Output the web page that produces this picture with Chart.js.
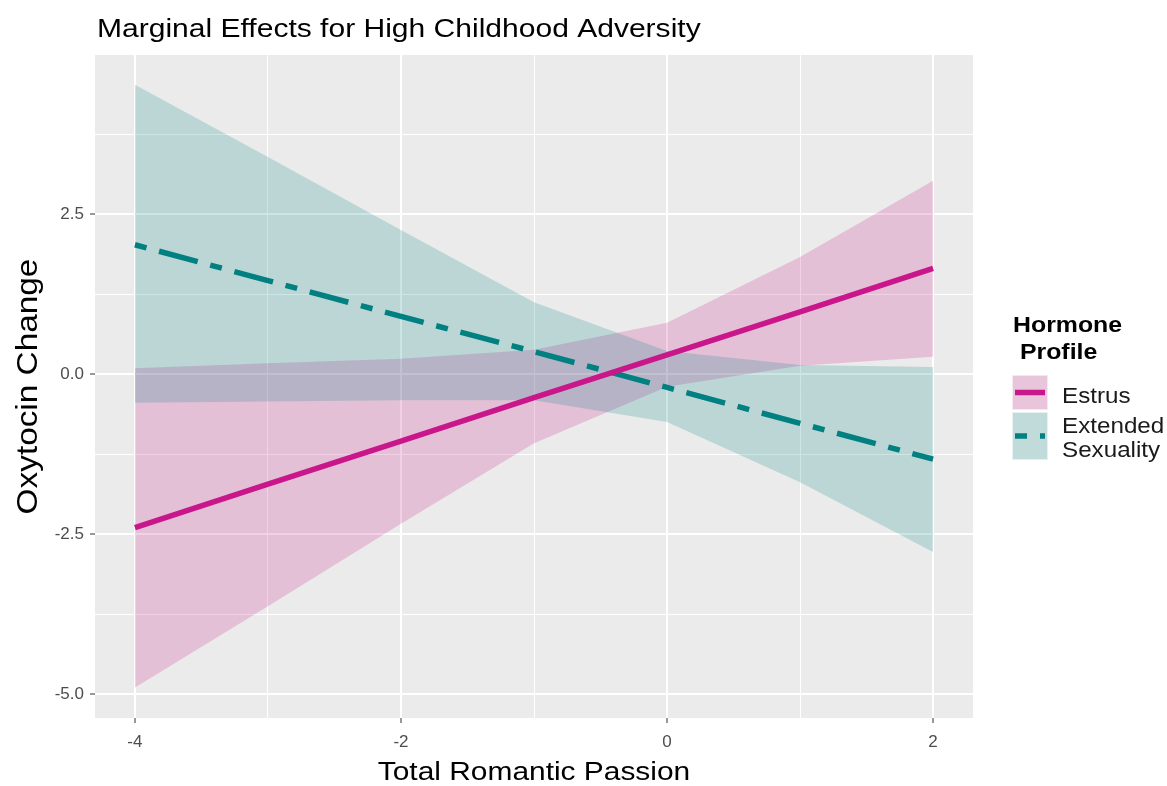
<!DOCTYPE html>
<html>
<head>
<meta charset="utf-8">
<script src="https://cdn.jsdelivr.net/npm/chart.js@4.4.1/dist/chart.umd.min.js"></script>
<style>
  html, body { margin: 0; padding: 0; background: #ffffff; }
  #wrap { width: 1167px; height: 786px; }
</style>
</head>
<body>
<div id="wrap"><canvas id="c" width="1167" height="786"></canvas></div>
<script>
// ---- Data ----
const xValues = [-4, -3, -2, -1, 0, 1, 2];
const estrusFit   = [-2.40, -1.72, -1.05, -0.37, 0.30, 0.97, 1.65];
const estrusLower = [-4.90, -3.63, -2.34, -1.08, -0.20, 0.13, 0.27];
const estrusUpper = [0.09, 0.17, 0.24, 0.38, 0.80, 1.83, 3.02];
const extendedFit   = [2.02, 1.46, 0.90, 0.35, -0.21, -0.77, -1.33];
const extendedLower = [-0.45, -0.43, -0.41, -0.41, -0.75, -1.69, -2.78];
const extendedUpper = [4.52, 3.39, 2.25, 1.12, 0.36, 0.14, 0.11];

const xTicks = [-4, -3, -2, -1, 0, 1, 2];
const xMajor = [-4, -2, 0, 2];
const yTicks = [-5, -3.75, -2.5, -1.25, 0, 1.25, 2.5, 3.75];
const yMajor = [-5, -2.5, 0, 2.5];

const seriesNames = ['Estrus', 'Extended\nSexuality'];
const titleText = 'Marginal Effects for High Childhood Adversity';
const xTitle = 'Total Romantic Passion';
const yTitle = 'Oxytocin Change';
const legendTitle = ['Hormone', ' Profile'];

// ---- Styles ----
const PINK = '#C9168A';
const TEAL = '#008080';
const PINK_BAND = 'rgba(199,21,133,0.2)';
const TEAL_BAND = 'rgba(0,128,128,0.2)';
const DASH = [12, 13, 40, 13];
const FONT = '"Liberation Sans", Arial, sans-serif';

const pts = (ys) => xValues.map((x, i) => ({ x: x, y: ys[i] }));
const isMajor = (arr, v) => arr.some(m => Math.abs(m - v) < 1e-9);

function stretchText(ctx, text, x, y, font, color, sx, align) {
  ctx.save();
  ctx.font = font;
  ctx.fillStyle = color;
  ctx.textBaseline = 'alphabetic';
  ctx.textAlign = 'left';
  const w = ctx.measureText(text).width;
  ctx.translate(x, y);
  ctx.scale(sx, 1);
  let dx = 0;
  if (align === 'center') dx = -w / 2;
  ctx.fillText(text, dx, 0);
  ctx.restore();
}

const bgPlugin = {
  id: 'panelBg',
  beforeDraw(chart) {
    const { ctx, chartArea: a } = chart;
    ctx.save();
    ctx.fillStyle = '#ffffff';
    ctx.fillRect(0, 0, chart.width, chart.height);
    ctx.fillStyle = '#EBEBEB';
    ctx.fillRect(a.left, a.top, a.right - a.left, a.bottom - a.top);
    ctx.restore();
  }
};

const decorPlugin = {
  id: 'decor',
  afterDraw(chart) {
    const { ctx, chartArea: a } = chart;
    stretchText(ctx, titleText, 97, 37, '26px ' + FONT, '#000000', 1.155, 'left');
    stretchText(ctx, xTitle, (a.left + a.right) / 2, 780, '26px ' + FONT, '#000000', 1.15, 'center');
    ctx.save();
    ctx.translate(37, (a.top + a.bottom) / 2);
    ctx.rotate(-Math.PI / 2);
    stretchText(ctx, yTitle, 0, 0, '29px ' + FONT, '#000000', 1.15, 'center');
    ctx.restore();

    stretchText(ctx, legendTitle[0], 1013, 332, 'bold 22px ' + FONT, '#000000', 1.13, 'left');
    stretchText(ctx, legendTitle[1], 1013, 359, 'bold 22px ' + FONT, '#000000', 1.13, 'left');

    const keys = [
      { y: 375, h: 35, band: PINK_BAND, line: PINK, dash: [] },
      { y: 412, h: 48, band: TEAL_BAND, line: TEAL, dash: DASH }
    ];
    keys.forEach(k => {
      ctx.save();
      ctx.fillStyle = '#F2F2F2';
      ctx.fillRect(1012, k.y, 36, k.h);
      ctx.fillStyle = k.band;
      ctx.fillRect(1012, k.y, 36, k.h);
      ctx.strokeStyle = 'rgba(255,255,255,0.6)';
      ctx.lineWidth = 1;
      ctx.strokeRect(1012.5, k.y + 0.5, 35, k.h - 1);
      ctx.strokeStyle = k.line;
      ctx.lineWidth = 5.5;
      ctx.lineCap = 'butt';
      ctx.setLineDash(k.dash);
      ctx.beginPath();
      const cy = k.y + k.h / 2;
      ctx.moveTo(1015, cy);
      ctx.lineTo(1045, cy);
      ctx.stroke();
      ctx.restore();
    });
    stretchText(ctx, 'Estrus', 1062, 403, '22px ' + FONT, '#1A1A1A', 1.1, 'left');
    const ext = seriesNames[1].split('\n');
    stretchText(ctx, ext[0], 1062, 433, '22px ' + FONT, '#1A1A1A', 1.1, 'left');
    stretchText(ctx, ext[1], 1062, 457, '22px ' + FONT, '#1A1A1A', 1.1, 'left');
  }
};

const lineBase = { pointRadius: 0, pointHoverRadius: 0, tension: 0 };

new Chart(document.getElementById('c'), {
  type: 'line',
  data: {
    datasets: [
      Object.assign({}, lineBase, { label: 'Estrus', data: pts(estrusFit), borderColor: PINK, borderWidth: 5.5, fill: false }),
      Object.assign({}, lineBase, { label: 'Extended Sexuality', data: pts(extendedFit), borderColor: TEAL, borderWidth: 5.5, borderDash: DASH, fill: false }),
      Object.assign({}, lineBase, { label: 'ext upper', data: pts(extendedUpper), borderWidth: 0, borderColor: 'rgba(0,0,0,0)', backgroundColor: TEAL_BAND, fill: '+1' }),
      Object.assign({}, lineBase, { label: 'ext lower', data: pts(extendedLower), borderWidth: 0, borderColor: 'rgba(0,0,0,0)', fill: false }),
      Object.assign({}, lineBase, { label: 'estrus upper', data: pts(estrusUpper), borderWidth: 0, borderColor: 'rgba(0,0,0,0)', backgroundColor: PINK_BAND, fill: '+1' }),
      Object.assign({}, lineBase, { label: 'estrus lower', data: pts(estrusLower), borderWidth: 0, borderColor: 'rgba(0,0,0,0)', fill: false })
    ]
  },
  options: {
    responsive: false,
    animation: false,
    devicePixelRatio: 1,
    layout: { padding: { left: 0, top: 55, right: 194, bottom: 0 } },
    plugins: {
      legend: { display: false },
      title: { display: false },
      tooltip: { enabled: false }
    },
    scales: {
      x: {
        type: 'linear',
        min: -4.3, max: 2.3,
        border: { display: false },
        afterBuildTicks: (s) => { s.ticks = xTicks.map(v => ({ value: v })); },
        afterFit: (s) => { s.height = 68; },
        grid: {
          color: '#ffffff',
          lineWidth: (c) => isMajor(xMajor, c.tick.value) ? 2 : 1,
          drawTicks: true,
          tickLength: 5,
          tickWidth: 1,
          tickColor: (c) => isMajor(xMajor, c.tick.value) ? '#333333' : 'rgba(0,0,0,0)'
        },
        ticks: {
          autoSkip: false,
          maxRotation: 0,
          padding: 9,
          color: '#4D4D4D',
          font: { family: FONT, size: 17 },
          callback: (v) => isMajor(xMajor, v) ? String(v) : ''
        }
      },
      y: {
        type: 'linear',
        min: -5.375, max: 4.985,
        border: { display: false },
        afterBuildTicks: (s) => { s.ticks = yTicks.map(v => ({ value: v })); },
        afterFit: (s) => { s.width = 95; },
        grid: {
          color: '#ffffff',
          lineWidth: (c) => isMajor(yMajor, c.tick.value) ? 2 : 1,
          drawTicks: true,
          tickLength: 5,
          tickWidth: 1,
          tickColor: (c) => isMajor(yMajor, c.tick.value) ? '#333333' : 'rgba(0,0,0,0)'
        },
        ticks: {
          autoSkip: false,
          padding: 6,
          color: '#4D4D4D',
          font: { family: FONT, size: 17 },
          callback: (v) => isMajor(yMajor, v) ? Number(v).toFixed(1) : ''
        }
      }
    }
  },
  plugins: [bgPlugin, decorPlugin]
});
</script>
</body>
</html>
